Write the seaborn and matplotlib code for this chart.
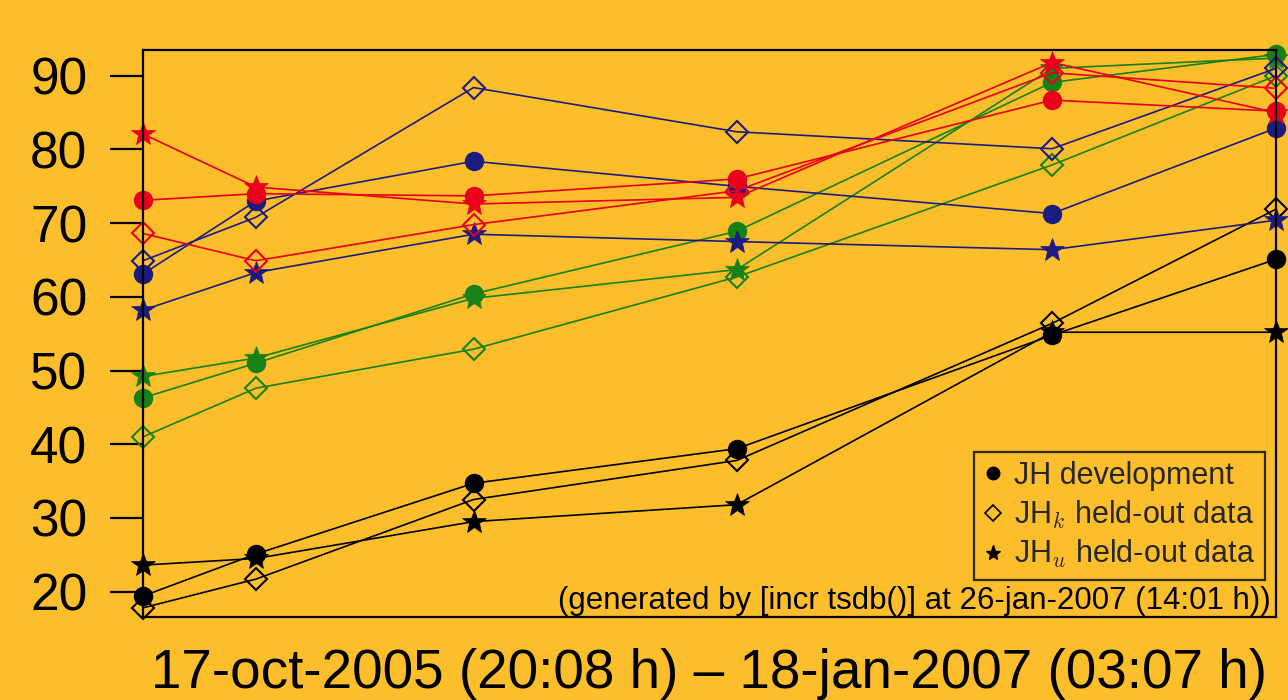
import numpy as np
import pandas as pd
import matplotlib
matplotlib.use('Agg')
import matplotlib.pyplot as plt
from matplotlib.lines import Line2D
import seaborn as sns

# run dates (x positions)
dates = pd.to_datetime(['2005-10-17 20:08', '2005-12-02 10:00', '2006-02-28 06:00',
                        '2006-06-14 12:00', '2006-10-19 18:00', '2007-01-18 03:07'])

# coverage per grammar/profile; dev = development, k = held-out known, u = held-out unknown
black_dev = [19.4, 25.1, 34.7, 39.4, 54.8, 65.1]
black_k = [17.8, 21.7, 32.5, 37.8, 56.4, 71.9]
black_u = [23.6, 24.5, 29.5, 31.8, 55.2, 55.2]

green_dev = [46.3, 51.0, 60.4, 68.9, 89.1, 92.9]
green_k = [41.0, 47.6, 52.9, 62.7, 77.9, 90.0]
green_u = [49.2, 51.7, 59.8, 63.7, 91.0, 92.4]

blue_dev = [63.1, 73.0, 78.4, 75.0, 71.3, 82.9]
blue_k = [64.9, 70.8, 88.4, 82.4, 80.1, 91.0]
blue_u = [58.2, 63.3, 68.5, 67.5, 66.4, 70.4]

red_dev = [73.1, 74.0, 73.7, 76.0, 86.7, 85.2]
red_k = [68.6, 64.9, 69.8, 74.4, 90.4, 88.3]
red_u = [82.1, 74.9, 72.6, 73.5, 91.8, 85.0]

legend_labels = ['JH development', r'JH$_k$ held-out data', r'JH$_u$ held-out data']
xlabel = '17-oct-2005 (20:08 h) \u2013 18-jan-2007 (03:07 h)'
note = '(generated by [incr tsdb()] at 26-jan-2007 (14:01 h))'

BG = '#FDBE2B'
COLS = {'black': '#000000', 'green': '#178017', 'blue': '#1B1B82', 'red': '#E8001C'}
series = {
    'black': (black_dev, black_k, black_u),
    'green': (green_dev, green_k, green_u),
    'blue': (blue_dev, blue_k, blue_u),
    'red': (red_dev, red_k, red_u),
}

sns.set_theme(style='white')
plt.rcParams['font.family'] = ['Liberation Sans', 'DejaVu Sans']
plt.rcParams['mathtext.fontset'] = 'cm'

fig = plt.figure(figsize=(12.88, 7.0), dpi=100, facecolor=BG)
ax = fig.add_axes([0.111, 0.1186, 0.8797, 0.81])
ax.set_facecolor(BG)

for name, (dev, k, u) in series.items():
    c = COLS[name]
    sns.lineplot(x=dates, y=u, ax=ax, color=c, lw=1.2, marker='*', markersize=18,
                 markeredgecolor=c, markerfacecolor=c, markeredgewidth=0.5, clip_on=False)
    sns.lineplot(x=dates, y=k, ax=ax, color=c, lw=1.2, marker='D', markersize=11.5,
                 markeredgecolor=c, markerfacecolor='none', markeredgewidth=1.5, clip_on=False)
    sns.lineplot(x=dates, y=dev, ax=ax, color=c, lw=1.2, marker='o', markersize=14,
                 markeredgecolor=c, markerfacecolor=c, markeredgewidth=0, clip_on=False)

ax.set_xlim(dates[0], dates[-1])
ax.set_ylim(16.56, 93.5)
ax.set_yticks([20, 30, 40, 50, 60, 70, 80, 90])
ax.set_xticks([])
ax.tick_params(axis='y', left=True, direction='out', length=24, width=1.6,
               labelsize=37, pad=16, colors='black')
for s in ax.spines.values():
    s.set_color('black')
    s.set_linewidth(1.6)
ax.set_xlabel(xlabel, fontsize=39.5, labelpad=22, color='black')
ax.set_ylabel('')

handles = [
    Line2D([], [], ls='none', marker='o', color='black', markersize=9),
    Line2D([], [], ls='none', marker='D', markerfacecolor='none', markeredgecolor='black',
           markersize=8, markeredgewidth=1.2),
    Line2D([], [], ls='none', marker='*', color='black', markersize=11),
]
leg = ax.legend(handles, legend_labels, loc='lower right', bbox_to_anchor=(0.99, 0.066),
                fontsize=22, frameon=True, fancybox=False, facecolor=BG, edgecolor='black',
                handlelength=0.6, handletextpad=0.4, labelspacing=0.25, borderpad=0.3,
                borderaxespad=0)
leg.get_frame().set_linewidth(1.6)

ax.text(0.995, 0.002, note, transform=ax.transAxes, ha='right', va='bottom',
        fontsize=22.5, color='black')

fig.savefig('out.png', dpi=100, facecolor=BG)
